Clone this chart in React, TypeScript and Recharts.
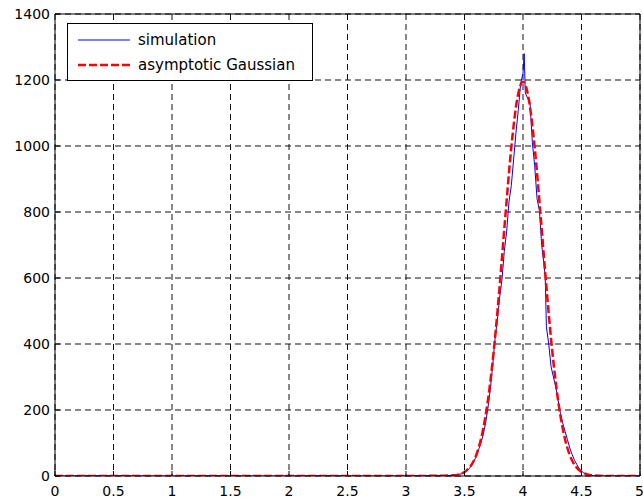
import { LineChart, Line, XAxis, YAxis, CartesianGrid, ReferenceLine } from 'recharts'

// simulated histogram (x, count)
const simX = [0, 1, 2, 3, 3.3, 3.4, 3.44, 3.48, 3.5, 3.52, 3.54, 3.56, 3.58, 3.6, 3.62, 3.64, 3.66, 3.68, 3.7, 3.72, 3.74, 3.76, 3.78, 3.8, 3.82, 3.84, 3.86, 3.88, 3.9, 3.92, 3.94, 3.96, 3.98, 4.0, 4.01, 4.02, 4.04, 4.06, 4.08, 4.1, 4.12, 4.14, 4.16, 4.18, 4.19, 4.2, 4.22, 4.24, 4.26, 4.28, 4.3, 4.32, 4.34, 4.36, 4.38, 4.4, 4.42, 4.44, 4.46, 4.48, 4.5, 4.52, 4.54, 4.57, 4.6, 4.7, 5]
const simY = [0, 0, 0, 0, 1, 2, 4, 7, 10, 15, 22, 32, 45, 58, 79, 100, 125, 160, 205, 261, 330, 412, 470, 540, 594, 680, 740, 830, 880, 960, 1040, 1110, 1190, 1220, 1280, 1160, 1145, 1130, 1010, 940, 840, 805, 700, 640, 604, 452, 400, 331, 300, 270, 230, 190, 160, 135, 110, 85, 65, 48, 35, 22, 15, 9, 5, 3, 1, 0, 0]

// asymptotic Gaussian curve
const gaussX = [0, 1, 2, 3, 3.3, 3.4, 3.45, 3.5, 3.55, 3.6, 3.65, 3.7, 3.75, 3.8, 3.85, 3.9, 3.95, 4.0, 4.05, 4.1, 4.15, 4.2, 4.25, 4.3, 4.35, 4.4, 4.45, 4.5, 4.55, 4.6, 4.7, 5]
const gaussY = [0, 0, 0, 0, 1, 2, 5, 12, 29, 63, 126, 229, 379, 573, 791, 995, 1141, 1195, 1141, 995, 791, 573, 379, 229, 126, 63, 29, 12, 5, 2, 0, 0]

const xTicks = [0, 0.5, 1, 1.5, 2, 2.5, 3, 3.5, 4, 4.5, 5]
const yTicks = [0, 200, 400, 600, 800, 1000, 1200, 1400]

const simData = simX.map((x, i) => ({ x, y: simY[i] }))
const gaussData = gaussX.map((x, i) => ({ x, y: gaussY[i] }))

const font = '"DejaVu Sans", "Liberation Sans", Arial, sans-serif'

const LegendBox = () => (
  <div
    style={{
      position: 'absolute',
      left: 67,
      top: 23,
      width: 246,
      height: 58,
      background: '#fff',
      border: '1px solid #000',
      fontFamily: font,
      fontSize: 15,
      color: '#000',
      boxSizing: 'border-box',
      paddingTop: 3,
    }}
  >
    <div style={{ display: 'flex', alignItems: 'center', height: 25 }}>
      <svg width={70} height={10}>
        <line x1={10} y1={5} x2={62} y2={5} stroke="#0000ff" strokeWidth={1} />
      </svg>
      <span>simulation</span>
    </div>
    <div style={{ display: 'flex', alignItems: 'center', height: 25 }}>
      <svg width={70} height={10}>
        <line x1={10} y1={5} x2={62} y2={5} stroke="#ff0000" strokeWidth={2.5} strokeDasharray="8 3" />
      </svg>
      <span>asymptotic Gaussian</span>
    </div>
  </div>
)

export default function App() {
  return (
    <div style={{ position: 'absolute', left: 0, top: 0, width: 643, height: 502, background: '#fff' }}>
      <LineChart width={643} height={502} margin={{ top: 14, right: 3, bottom: 0, left: 0 }}>
        <CartesianGrid stroke="#111" strokeDasharray="6 4" />
        <XAxis
          dataKey="x"
          type="number"
          domain={[0, 5]}
          ticks={xTicks}
          allowDataOverflow
          height={26}
          tickSize={-5}
          tickMargin={15}
          axisLine={{ stroke: '#000' }}
          tickLine={{ stroke: '#000' }}
          tick={{ fill: '#000', fontSize: 14, fontFamily: font }}
        />
        <YAxis
          type="number"
          domain={[0, 1400]}
          ticks={yTicks}
          allowDataOverflow
          width={55}
          tickSize={-5}
          tickMargin={10}
          axisLine={{ stroke: '#000' }}
          tickLine={{ stroke: '#000' }}
          tick={{ fill: '#000', fontSize: 14, fontFamily: font }}
        />
        <ReferenceLine y={1400} stroke="#000" />
        <ReferenceLine x={5} stroke="#000" />
        <Line
          data={simData}
          dataKey="y"
          type="linear"
          stroke="#0000ff"
          strokeWidth={1}
          dot={false}
          isAnimationActive={false}
        />
        <Line
          data={gaussData}
          dataKey="y"
          type="monotone"
          stroke="#ff0000"
          strokeWidth={2.5}
          strokeDasharray="8 3"
          dot={false}
          isAnimationActive={false}
        />
      </LineChart>
      <LegendBox />
    </div>
  )
}
